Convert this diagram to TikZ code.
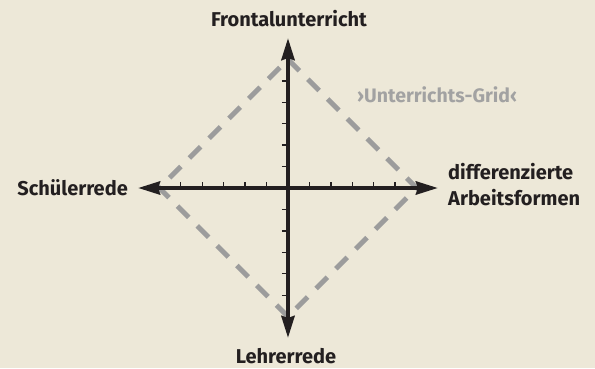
\documentclass[tikz,border=0pt]{standalone}
\usepackage{fontspec}
\setmainfont{Fira Sans}
\usetikzlibrary{arrows.meta}
\definecolor{bg}{HTML}{EDE8D8}
\definecolor{ink}{HTML}{231F20}
\definecolor{dashgray}{HTML}{9C9C9C}
\definecolor{txtgray}{HTML}{A2A2A2}
\tikzset{
  axis/.style={line width=4.2pt, draw=ink, -{Stealth[length=22pt,width=13pt,inset=2pt]}},
  tickmark/.style={line width=1.3pt, draw=ink},
  grid/.style={line width=5pt, draw=dashgray, dash pattern=on 16pt off 12pt},
  lbl/.style={font=\bfseries\fontsize{20}{24}\selectfont, text=ink, inner sep=0pt},
  glbl/.style={font=\bfseries\fontsize{19.5}{23}\selectfont, text=txtgray, inner sep=0pt}
}
\begin{document}
\begin{tikzpicture}[x=1pt,y=1pt]
\fill[bg] (-288,-180) rectangle (307,188);
\useasboundingbox (-288,-180) rectangle (307,188);
\def\u{21.43}
% diamond
\coordinate (T) at (0,128.6);
\coordinate (R) at (128.6,0);
\coordinate (B) at (0,-128.6);
\coordinate (L) at (-128.6,0);
\draw[grid] (T) -- (R) -- (B) -- (L) -- cycle;
% ticks
\foreach \i in {1,...,5}{
  \draw[tickmark] (-6,\i*\u) -- (0,\i*\u);
  \draw[tickmark] (-6,-\i*\u) -- (0,-\i*\u);
  \draw[tickmark] (\i*\u,0) -- (\i*\u,6);
  \draw[tickmark] (-\i*\u,0) -- (-\i*\u,6);
}
\coordinate (O) at (0,0);
\coordinate (N) at (0,150);
\coordinate (S) at (0,-150);
\coordinate (E) at (150,0);
\coordinate (W) at (-150,0);
\draw[axis] (O) -- (N);
\draw[axis] (O) -- (S);
\draw[axis] (O) -- (E);
\draw[axis] (O) -- (W);
% labels
\node[lbl, anchor=base] (front) at (1,162) {Frontalunterricht};
\node[lbl, anchor=base east] (schueler) at (-160,-7) {Schülerrede};
\node[lbl, anchor=base] (lehrer) at (-2,-175) {Lehrerrede};
\node[lbl, anchor=base west] (diff1) at (160,8.7) {differenzierte};
\node[lbl, anchor=base west] (diff2) at (160,-17) {Arbeitsformen};
\node[glbl, anchor=base west] (grid) at (69,85.7) {›Unterrichts-Grid‹};
\end{tikzpicture}
\end{document}
